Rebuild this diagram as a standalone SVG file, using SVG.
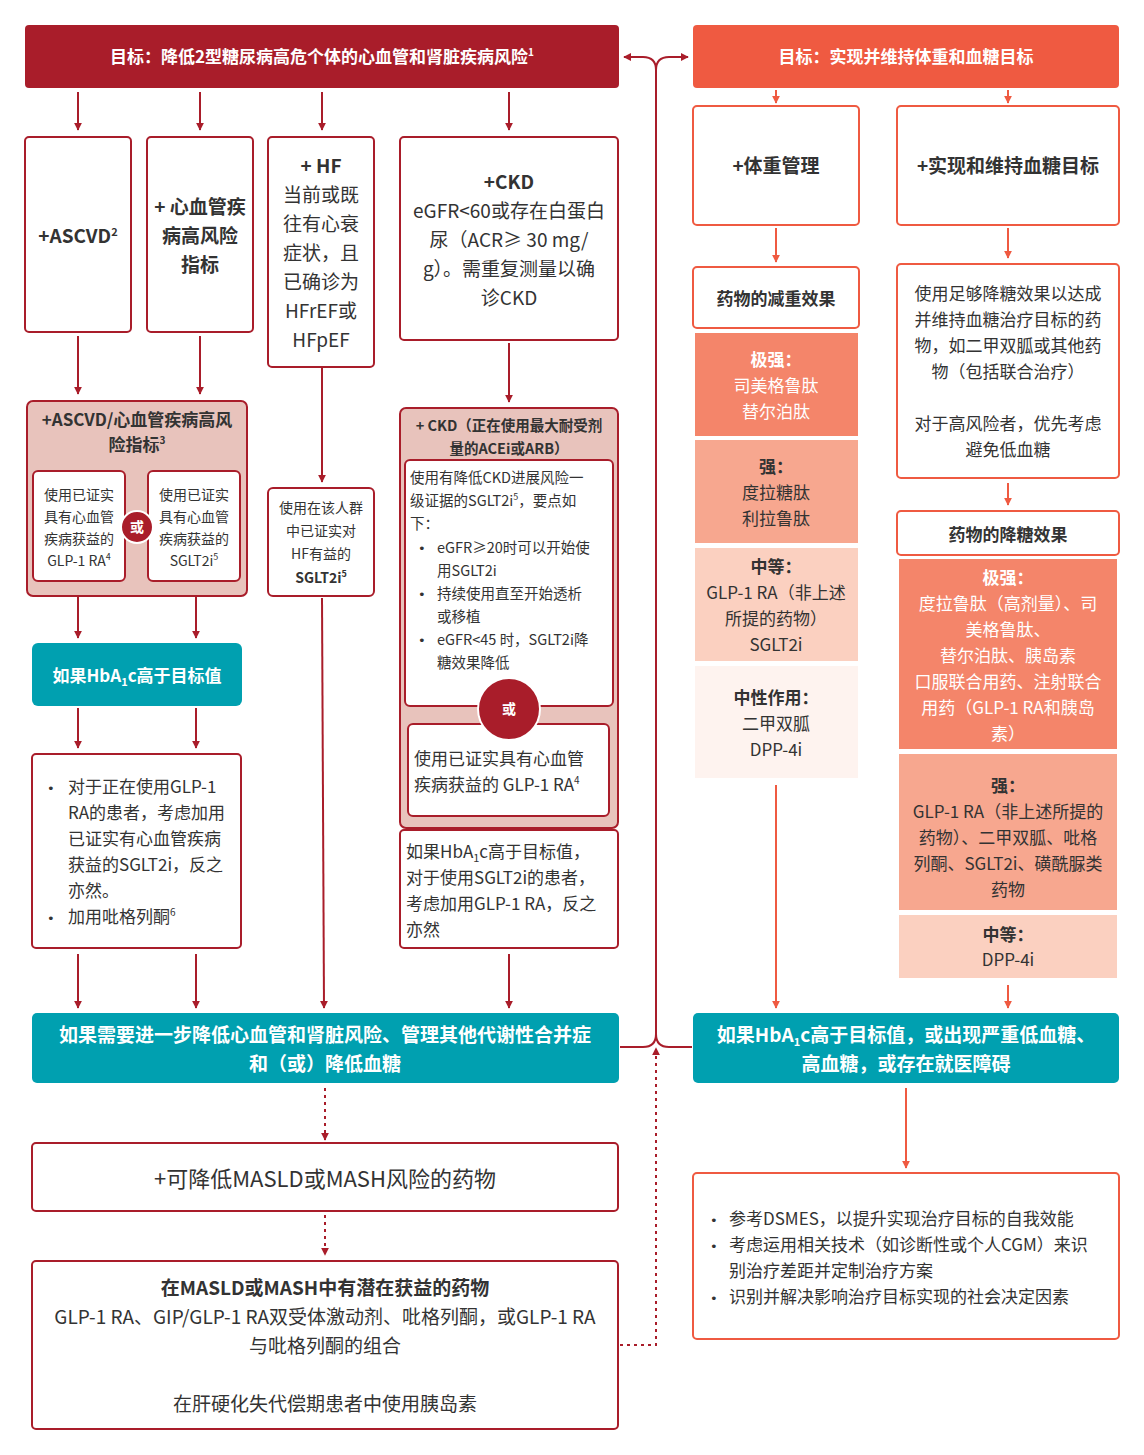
<svg xmlns="http://www.w3.org/2000/svg" width="1144" height="1455" viewBox="0 0 1144 1455">
<defs>
<marker id="a" viewBox="0 0 10 10" refX="9" refY="5" markerWidth="4" markerHeight="4" orient="auto-start-reverse"><path d="M0,0L10,5L0,10z" fill="#a91d2a"/></marker>
<marker id="b" viewBox="0 0 10 10" refX="9" refY="5" markerWidth="4" markerHeight="4" orient="auto-start-reverse"><path d="M0,0L10,5L0,10z" fill="#ef5a41"/></marker>
</defs>
<style>
text{font-family:"Noto Sans CJK SC","Noto Sans",sans-serif;fill:#333}
.b{font-weight:bold}
.w{fill:#fff}
.m{text-anchor:middle}
.box{fill:#fff;stroke:#a91d2a;stroke-width:2}
.obox{fill:#fff;stroke:#ef5a41;stroke-width:2}
.pk{fill:#e8c3bc;stroke:#a91d2a;stroke-width:2}
.l{stroke:#a91d2a;stroke-width:2;fill:none}
.lo{stroke:#ef5a41;stroke-width:2;fill:none}
.s{font-size:14px}
.bu{font-family:"DejaVu Sans",sans-serif;font-size:13px}
</style>
<g font-size="17">
<g id="connectors">
<path class="l" d="M78,92V130" marker-end="url(#a)"/>
<path class="l" d="M200,92V130" marker-end="url(#a)"/>
<path class="l" d="M322,92V130" marker-end="url(#a)"/>
<path class="l" d="M509,92V130" marker-end="url(#a)"/>
<path class="l" d="M78,336V394" marker-end="url(#a)"/>
<path class="l" d="M200,336V394" marker-end="url(#a)"/>
<path class="l" d="M322,368V482" marker-end="url(#a)"/>
<path class="l" d="M509,343V402" marker-end="url(#a)"/>
<path class="l" d="M78,588V638" marker-end="url(#a)"/>
<path class="l" d="M196,588V638" marker-end="url(#a)"/>
<path class="l" d="M78,708V748" marker-end="url(#a)"/>
<path class="l" d="M196,708V748" marker-end="url(#a)"/>
<path class="l" d="M78,954V1008" marker-end="url(#a)"/>
<path class="l" d="M196,954V1008" marker-end="url(#a)"/>
<path class="l" d="M509,954V1008" marker-end="url(#a)"/>
<path class="l" d="M322,598L324,1008" marker-end="url(#a)"/>
<path class="l" d="M656,1040V70Q656,57 643,57H624" marker-end="url(#a)"/>
<path class="l" d="M656,70Q656,57 669,57H688" marker-end="url(#a)"/>
<path class="l" d="M620,1047H643Q656,1047 656,1034M692,1047H669Q656,1047 656,1034"/>
<path class="l" stroke-dasharray="3,4" d="M620,1345H656V1048" marker-end="url(#a)"/>
<path class="l" stroke-dasharray="3,4" d="M325,1088V1140" marker-end="url(#a)"/>
<path class="l" stroke-dasharray="3,4" d="M325,1215V1255" marker-end="url(#a)"/>
<path class="lo" d="M776,90V103" marker-end="url(#b)"/>
<path class="lo" d="M1008,90V103" marker-end="url(#b)"/>
<path class="lo" d="M776,228V262" marker-end="url(#b)"/>
<path class="lo" d="M1008,228V258" marker-end="url(#b)"/>
<path class="lo" d="M1008,483V505" marker-end="url(#b)"/>
<path class="lo" d="M1008,985V1008" marker-end="url(#b)"/>
<path class="lo" d="M776,785V1008" marker-end="url(#b)"/>
<path class="lo" d="M906,1088V1168" marker-end="url(#b)"/>
</g>
<g id="title-left"><rect x="25" y="25" width="594" height="63" rx="4" fill="#a91d2a"/><text x="322" y="63" class="b w m">目标：降低2型糖尿病高危个体的心血管和肾脏疾病风险<tspan font-size="10" dy="-7">1</tspan></text></g>
<g id="title-right"><rect x="693" y="25" width="426" height="63" rx="4" fill="#ef5a41"/><text x="906" y="63" class="b w m">目标：实现并维持体重和血糖目标</text></g>
<g id="ascvd"><rect class="box" x="25" y="137" width="106" height="195" rx="4"/><text x="78" y="243" class="b m" font-size="19">+ASCVD<tspan font-size="11" dy="-7">2</tspan></text></g>
<g id="cvrisk"><rect class="box" x="147" y="137" width="106" height="195" rx="4"/><text class="b m" font-size="19"><tspan x="200" y="214">+ 心血管疾</tspan><tspan x="200" y="243">病高风险</tspan><tspan x="200" y="272">指标</tspan></text></g>
<g id="hf"><rect class="box" x="268" y="137" width="106" height="230" rx="4"/><text class="m" font-size="19"><tspan x="321" y="173" class="b">+ HF</tspan><tspan x="321" y="202">当前或既</tspan><tspan x="321" y="231">往有心衰</tspan><tspan x="321" y="260">症状，且</tspan><tspan x="321" y="289">已确诊为</tspan><tspan x="321" y="318">HFrEF或</tspan><tspan x="321" y="347">HFpEF</tspan></text></g>
<g id="ckd"><rect class="box" x="400" y="137" width="218" height="203" rx="4"/><text class="m" font-size="19"><tspan x="509" y="189" class="b">+CKD</tspan><tspan x="509" y="218">eGFR&lt;60或存在白蛋白</tspan><tspan x="509" y="247">尿（ACR≥ 30 mg/</tspan><tspan x="509" y="276">g）。需重复测量以确</tspan><tspan x="509" y="305">诊CKD</tspan></text></g>
<g id="ascvd-group"><rect class="pk" x="27" y="401" width="220" height="195" rx="6"/><text class="b m"><tspan x="137" y="426">+ASCVD/心血管疾病高风</tspan><tspan x="137" y="451">险指标<tspan font-size="10" dy="-7">3</tspan></tspan></text>
<rect class="box" x="33" y="471" width="92" height="110" rx="5"/><text class="s m"><tspan x="79" y="500">使用已证实</tspan><tspan x="79" y="522">具有心血管</tspan><tspan x="79" y="544">疾病获益的</tspan><tspan x="79" y="566">GLP-1 RA<tspan font-size="9" dy="-6">4</tspan></tspan></text>
<rect class="box" x="148" y="471" width="92" height="110" rx="5"/><text class="s m"><tspan x="194" y="500">使用已证实</tspan><tspan x="194" y="522">具有心血管</tspan><tspan x="194" y="544">疾病获益的</tspan><tspan x="194" y="566">SGLT2i<tspan font-size="9" dy="-6">5</tspan></tspan></text>
<circle cx="137" cy="527" r="16" fill="#a91d2a" stroke="#fff" stroke-width="2"/><text x="137" y="532" class="b w m s">或</text></g>
<g id="hf-sglt"><rect class="box" x="268" y="488" width="106" height="108" rx="5"/><text class="s m"><tspan x="321" y="513">使用在该人群</tspan><tspan x="321" y="536">中已证实对</tspan><tspan x="321" y="559">HF有益的</tspan><tspan x="321" y="583" class="b">SGLT2i<tspan font-size="9" dy="-6">5</tspan></tspan></text></g>
<g id="ckd-group"><rect class="pk" x="400" y="408" width="218" height="420" rx="6"/><text class="b m" font-size="14.5"><tspan x="509" y="431">+ CKD（正在使用最大耐受剂</tspan><tspan x="509" y="454">量的ACEi或ARB）</tspan></text>
<rect class="box" x="405" y="460" width="208" height="246" rx="5"/><text font-size="14.5"><tspan x="410" y="483">使用有降低CKD进展风险一</tspan><tspan x="410" y="506">级证据的SGLT2i<tspan font-size="9" dy="-6">5</tspan><tspan dy="6">，要点如</tspan></tspan><tspan x="410" y="529">下：</tspan><tspan x="418" y="553" class="bu">•</tspan><tspan x="437" y="553">eGFR≥20时可以开始使</tspan><tspan x="437" y="576">用SGLT2i</tspan><tspan x="418" y="599" class="bu">•</tspan><tspan x="437" y="599">持续使用直至开始透析</tspan><tspan x="437" y="622">或移植</tspan><tspan x="418" y="645" class="bu">•</tspan><tspan x="437" y="645">eGFR&lt;45 时，SGLT2i降</tspan><tspan x="437" y="668">糖效果降低</tspan></text>
<rect class="box" x="408" y="724" width="201" height="92" rx="5"/><text><tspan x="414" y="765">使用已证实具有心血管</tspan><tspan x="414" y="791">疾病获益的 GLP-1 RA<tspan font-size="10" dy="-7">4</tspan></tspan></text>
<circle cx="509" cy="709" r="31" fill="#a91d2a" stroke="#fff" stroke-width="2"/><text x="509" y="714" class="b w m s">或</text></g>
<g id="hba1c-left"><rect x="32" y="643" width="210" height="63" rx="6" fill="#00a0b0"/><text x="137" y="682" class="b w m">如果HbA<tspan font-size="11" dy="4">1</tspan><tspan dy="-4">c高于目标值</tspan></text></g>
<g id="left-tips"><rect class="box" x="32" y="754" width="209" height="194" rx="4"/><text><tspan x="47" y="793" class="bu">•</tspan><tspan x="68" y="793">对于正在使用GLP-1</tspan><tspan x="68" y="819">RA的患者，考虑加用</tspan><tspan x="68" y="845">已证实有心血管疾病</tspan><tspan x="68" y="871">获益的SGLT2i，反之</tspan><tspan x="68" y="897">亦然。</tspan><tspan x="47" y="923" class="bu">•</tspan><tspan x="68" y="923">加用吡格列酮<tspan font-size="10" dy="-7">6</tspan></tspan></text></g>
<g id="ckd-tip"><rect class="box" x="400" y="830" width="218" height="118" rx="4"/><text><tspan x="406" y="858">如果HbA<tspan font-size="11" dy="4">1</tspan><tspan dy="-4">c高于目标值，</tspan></tspan><tspan x="406" y="884">对于使用SGLT2i的患者，</tspan><tspan x="406" y="910">考虑加用GLP-1 RA，反之</tspan><tspan x="406" y="936">亦然</tspan></text></g>
<g id="further"><rect x="32" y="1013" width="587" height="70" rx="5" fill="#00a0b0"/><text class="b w m" font-size="19"><tspan x="325" y="1042">如果需要进一步降低心血管和肾脏风险、管理其他代谢性合并症</tspan><tspan x="325" y="1071">和（或）降低血糖</tspan></text></g>
<g id="masld"><rect class="box" x="32" y="1143" width="586" height="68" rx="4"/><text x="325" y="1187" class="m" font-size="22">+可降低MASLD或MASH风险的药物</text></g>
<g id="masld-drugs"><rect class="box" x="32" y="1261" width="586" height="168" rx="4"/><text class="m" font-size="19"><tspan x="325" y="1295" class="b">在MASLD或MASH中有潜在获益的药物</tspan><tspan x="325" y="1324">GLP-1 RA、GIP/GLP-1 RA双受体激动剂、吡格列酮，或GLP-1 RA</tspan><tspan x="325" y="1353">与吡格列酮的组合</tspan><tspan x="325" y="1411">在肝硬化失代偿期患者中使用胰岛素</tspan></text></g>
<g id="weight"><rect class="obox" x="693" y="106" width="166" height="119" rx="4"/><text x="776" y="173" class="b m" font-size="19">+体重管理</text></g>
<g id="glyc"><rect class="obox" x="897" y="106" width="222" height="119" rx="4"/><text x="1008" y="173" class="b m" font-size="19">+实现和维持血糖目标</text></g>
<g id="wt-effect"><rect class="obox" x="693" y="267" width="166" height="61" rx="4"/><text x="776" y="305" class="b m">药物的减重效果</text>
<rect x="695" y="333" width="163" height="103" fill="#f4856a"/><text class="m"><tspan x="776" y="366" class="b w">极强：</tspan><tspan x="776" y="392" class="w">司美格鲁肽</tspan><tspan x="776" y="418" class="w">替尔泊肽</tspan></text>
<rect x="695" y="440" width="163" height="103" fill="#f7a78f"/><text class="m"><tspan x="776" y="473" class="b">强：</tspan><tspan x="776" y="499">度拉糖肽</tspan><tspan x="776" y="525">利拉鲁肽</tspan></text>
<rect x="695" y="548" width="163" height="113" fill="#fbd0c0"/><text class="m"><tspan x="776" y="573" class="b">中等：</tspan><tspan x="776" y="599">GLP-1 RA（非上述</tspan><tspan x="776" y="625">所提的药物）</tspan><tspan x="776" y="651">SGLT2i</tspan></text>
<rect x="695" y="666" width="163" height="112" fill="#fef3ef"/><text class="m"><tspan x="776" y="704" class="b">中性作用：</tspan><tspan x="776" y="730">二甲双胍</tspan><tspan x="776" y="756">DPP-4i</tspan></text></g>
<g id="glyc-use"><rect class="obox" x="897" y="264" width="222" height="214" rx="4"/><text class="m"><tspan x="1008" y="300">使用足够降糖效果以达成</tspan><tspan x="1008" y="326">并维持血糖治疗目标的药</tspan><tspan x="1008" y="352">物，如二甲双胍或其他药</tspan><tspan x="1008" y="378">物（包括联合治疗）</tspan><tspan x="1008" y="430">对于高风险者，优先考虑</tspan><tspan x="1008" y="456">避免低血糖</tspan></text></g>
<g id="glyc-effect"><rect class="obox" x="897" y="511" width="222" height="44" rx="4"/><text x="1008" y="541" class="b m">药物的降糖效果</text>
<rect x="899" y="559" width="218" height="190" fill="#f4856a"/><text class="m w"><tspan x="1008" y="584" class="b w">极强：</tspan><tspan x="1008" y="610" class="w">度拉鲁肽（高剂量）、司</tspan><tspan x="1008" y="636" class="w">美格鲁肽、</tspan><tspan x="1008" y="662" class="w">替尔泊肽、胰岛素</tspan><tspan x="1008" y="688" class="w">口服联合用药、注射联合</tspan><tspan x="1008" y="714" class="w">用药（GLP-1 RA和胰岛</tspan><tspan x="1008" y="740" class="w">素）</tspan></text>
<rect x="899" y="754" width="218" height="156" fill="#f7a78f"/><text class="m"><tspan x="1008" y="792" class="b">强：</tspan><tspan x="1008" y="818">GLP-1 RA（非上述所提的</tspan><tspan x="1008" y="844">药物）、二甲双胍、吡格</tspan><tspan x="1008" y="870">列酮、SGLT2i、磺酰脲类</tspan><tspan x="1008" y="896">药物</tspan></text>
<rect x="899" y="915" width="218" height="63" fill="#fbd0c0"/><text class="m"><tspan x="1008" y="941" class="b">中等：</tspan><tspan x="1008" y="966">DPP-4i</tspan></text></g>
<g id="hba1c-right"><rect x="693" y="1013" width="426" height="70" rx="5" fill="#00a0b0"/><text class="b w m" font-size="19"><tspan x="906" y="1042">如果HbA<tspan font-size="11" dy="4">1</tspan><tspan dy="-4">c高于目标值，或出现严重低血糖、</tspan></tspan><tspan x="906" y="1071">高血糖，或存在就医障碍</tspan></text></g>
<g id="dsmes"><rect class="obox" x="693" y="1173" width="426" height="166" rx="4"/><text><tspan x="710" y="1225" class="bu">•</tspan><tspan x="729" y="1225">参考DSMES，以提升实现治疗目标的自我效能</tspan><tspan x="710" y="1251" class="bu">•</tspan><tspan x="729" y="1251">考虑运用相关技术（如诊断性或个人CGM）来识</tspan><tspan x="729" y="1277">别治疗差距并定制治疗方案</tspan><tspan x="710" y="1303" class="bu">•</tspan><tspan x="729" y="1303">识别并解决影响治疗目标实现的社会决定因素</tspan></text></g>
</g>
</svg>
